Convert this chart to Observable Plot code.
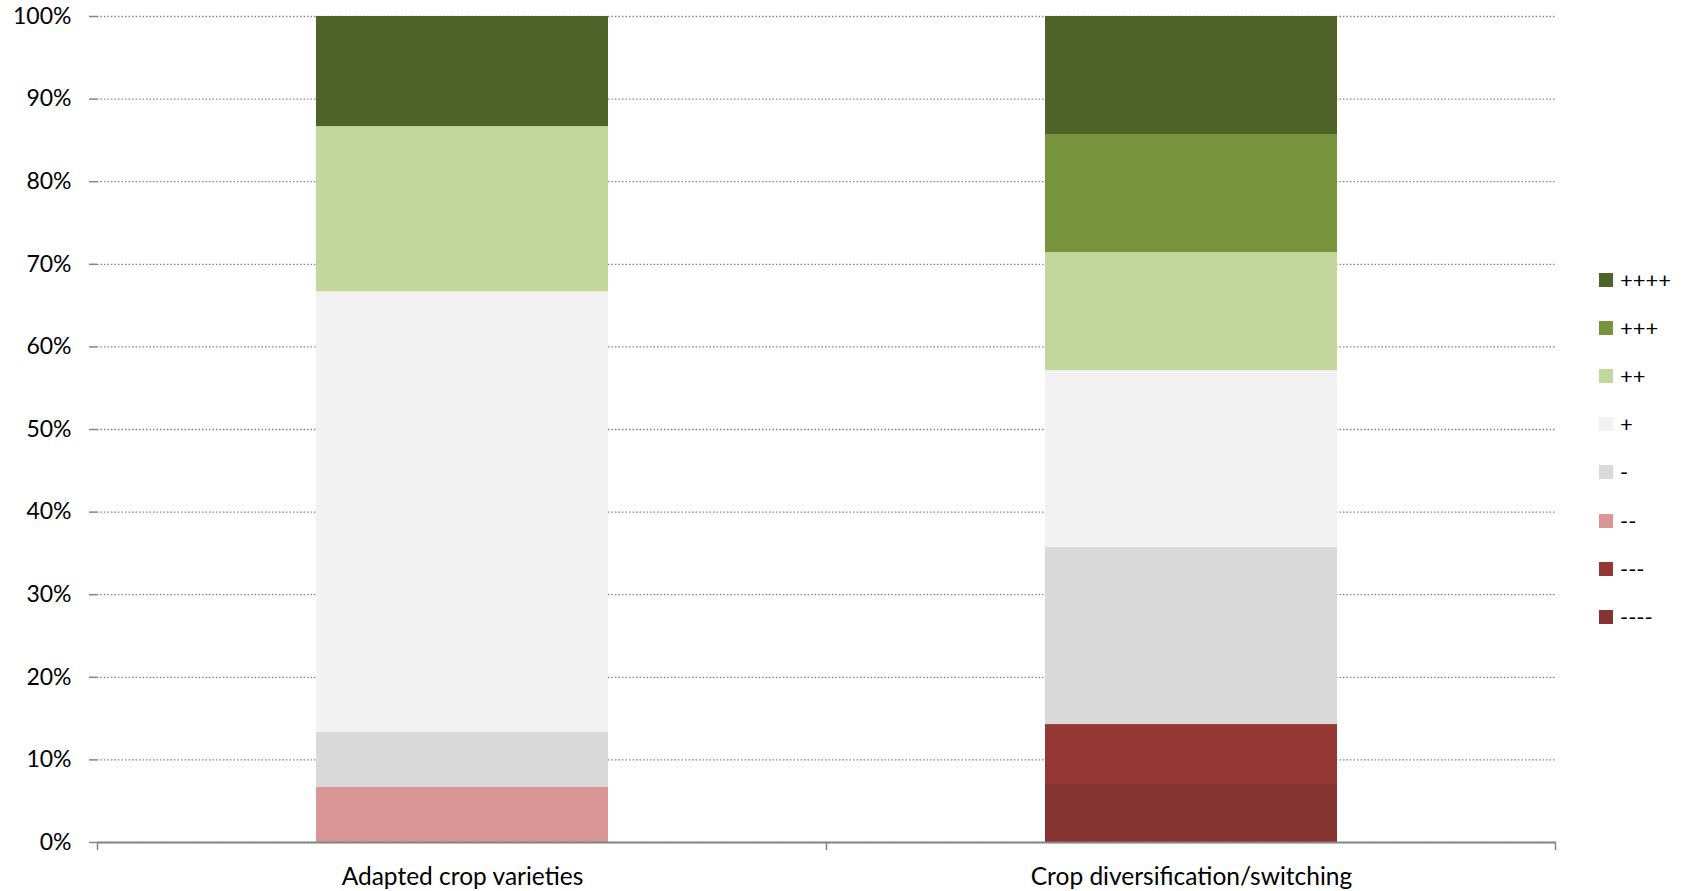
<!DOCTYPE html>
<html>
<head>
<meta charset="utf-8">
<script src="https://cdn.jsdelivr.net/npm/d3@7"></script>
<script src="https://cdn.jsdelivr.net/npm/@observablehq/plot@0.6"></script>
<style>
  html, body { margin: 0; padding: 0; background: #fff; }
  #wrap { position: relative; width: 1687px; height: 891px; font-family: Lato, "Open Sans", sans-serif; }
  #legend { position: absolute; left: 1599px; top: 256px; }
  .item { display: flex; align-items: center; height: 48.1px; }
  .item .sw { width: 14px; height: 14px; margin-right: 7px; }
  .item span { font-size: 22px; color: #000; line-height: 1; }
</style>
</head>
<body>
<div id="wrap"></div>
<script>
// Rating levels, from most negative (bottom of each stack) to most positive
const levels = ["----", "---", "--", "-", "+", "++", "+++", "++++"];
const levelColors = ["#863432", "#953735", "#D99694", "#D9D9D9", "#F2F2F2", "#C3D69B", "#77933C", "#4F6228"];

const options = ["Adapted crop varieties", "Crop diversification/switching"];

// Share of responses per level (%), listed in the same order as `levels`
const adaptedShares = [0, 0, 6.67, 6.67, 53.33, 20.0, 0, 13.33];
const diversificationShares = [7.14, 7.14, 0, 21.43, 21.43, 14.29, 14.29, 14.29];

const yTicks = [0, 0.1, 0.2, 0.3, 0.4, 0.5, 0.6, 0.7, 0.8, 0.9, 1];

const rows = [];
[adaptedShares, diversificationShares].forEach((shares, i) => {
  shares.forEach((v, j) => {
    if (v > 0) rows.push({option: options[i], level: levels[j], share: v});
  });
});

const W = 1687, H = 891;
const mL = 97, mR = 131, mT = 16, mB = 49;
const axisGray = "#868686";
const font = "Lato, 'Open Sans', sans-serif";

const chart = Plot.plot({
  width: W,
  height: H,
  marginLeft: mL,
  marginRight: mR,
  marginTop: mT,
  marginBottom: mB,
  style: {fontFamily: font, background: "#fff", color: "#000"},
  x: {domain: options, paddingInner: 0.6, paddingOuter: 0.3, label: null},
  y: {type: "linear", domain: [0, 1], label: null},
  color: {domain: levels, range: levelColors},
  marks: [
    Plot.gridY(yTicks, {stroke: axisGray, strokeOpacity: 1, strokeWidth: 1.3, strokeDasharray: "1.5,2"}),
    Plot.barY(rows, Plot.stackY({offset: "normalize"}, {
      x: "option", y: "share", fill: "level"
    })),
    Plot.axisY(yTicks, {
      tickFormat: d => `${Math.round(d * 100)}%`,
      tickSize: 8, tickPadding: 18, stroke: axisGray, strokeWidth: 1.5,
      fontSize: 23, fill: "#000", label: null
    }),
    Plot.ruleX([0], {frameAnchor: "left", stroke: axisGray, strokeWidth: 2}),
    Plot.ruleY([0], {stroke: axisGray, strokeWidth: 2}),
    Plot.axisX({tickSize: 0, tickPadding: 25, fontSize: 24.5, fill: "#000", label: null})
  ]
});

// boundary ticks under the baseline, one at each edge of the category bands
const xs = chart.scale("x");
const step = xs.step;
const edges = options.map(o => xs.apply(o) - (xs.step - xs.bandwidth) / 2);
edges.push(edges[edges.length - 1] + step);
d3.select(chart).append("g").selectAll("line").data(edges).join("line")
  .attr("x1", d => d).attr("x2", d => d)
  .attr("y1", H - mB).attr("y2", H - mB + 8)
  .attr("stroke", axisGray).attr("stroke-width", 1.5);

const wrap = document.getElementById("wrap");
wrap.appendChild(chart);

// legend, most positive level on top
const legend = document.createElement("div");
legend.id = "legend";
levels.slice().reverse().forEach(l => {
  const item = document.createElement("div");
  item.className = "item";
  const sw = document.createElement("div");
  sw.className = "sw";
  sw.style.background = levelColors[levels.indexOf(l)];
  const t = document.createElement("span");
  t.textContent = l;
  item.appendChild(sw);
  item.appendChild(t);
  legend.appendChild(item);
});
wrap.appendChild(legend);
</script>
</body>
</html>
